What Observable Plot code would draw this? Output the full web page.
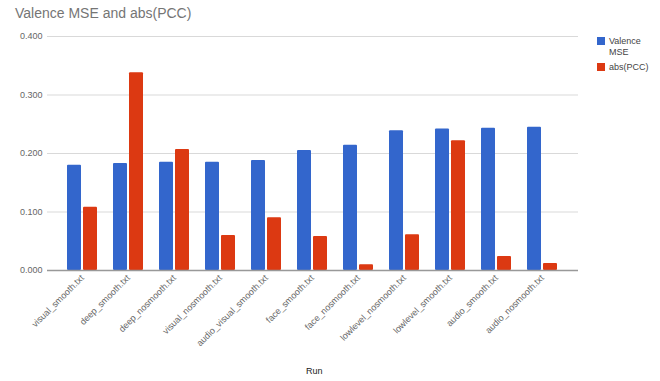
<!DOCTYPE html>
<html>
<head>
<meta charset="utf-8">
<script src="https://cdn.jsdelivr.net/npm/d3@7"></script>
<script src="https://cdn.jsdelivr.net/npm/@observablehq/plot@0.6"></script>
<style>
  html, body { margin: 0; padding: 0; background: #fff; }
  #wrap { position: relative; width: 660px; height: 381px; font-family: "Liberation Sans", Arial, sans-serif; }
  #title { position: absolute; left: 15px; top: 5px; font-size: 14px; color: #757575; }
  #xlabel { position: absolute; left: 306px; top: 366px; font-size: 9px; color: #222; }
  .leg { position: absolute; left: 597px; font-size: 9px; color: #444; line-height: 11px; }
  .leg span.sw { position: absolute; left: 0; top: 1px; width: 8px; height: 8px; }
  .leg span.tx { position: absolute; left: 12px; top: 0; white-space: nowrap; }
</style>
</head>
<body>
<div id="wrap">
  <div id="chart"></div>
  <div id="title">Valence MSE and abs(PCC)</div>
  <div id="legend"></div>
  <div id="xlabel">Run</div>
</div>
<script>
const runs = ["visual_smooth.txt","deep_smooth.txt","deep_nosmooth.txt","visual_nosmooth.txt","audio_visual_smooth.txt","face_smooth.txt","face_nosmooth.txt","lowlevel_nosmooth.txt","lowlevel_smooth.txt","audio_smooth.txt","audio_nosmooth.txt"];
const mse = [0.180,0.183,0.185,0.185,0.188,0.205,0.214,0.239,0.242,0.243,0.245];
const pcc = [0.108,0.338,0.207,0.060,0.090,0.058,0.010,0.061,0.222,0.024,0.012];
const seriesNames = ["Valence MSE","abs(PCC)"];
const seriesColors = ["#3366cc","#dc3912"];
const yTicks = [0,0.1,0.2,0.3,0.4];

const mseRows = runs.map((r,i) => ({run: r, value: mse[i]}));
const pccRows = runs.map((r,i) => ({run: r, value: pcc[i]}));

const chart = Plot.plot({
  width: 660, height: 381,
  marginTop: 36, marginBottom: 111, marginLeft: 47, marginRight: 82,
  style: {fontFamily: "'Liberation Sans', Arial, sans-serif", fontSize: "9px", color: "#666", background: "white"},
  x: {domain: runs, paddingInner: 0.338, paddingOuter: 0.342, label: null, tickSize: 0, tickRotate: -45, tickPadding: 6},
  y: {domain: [0,0.4], ticks: yTicks, tickFormat: ".3f", label: null, tickSize: 0, tickPadding: 5},
  marks: [
    Plot.ruleY(yTicks.slice(1), {stroke: "#d9d9d9"}),
    Plot.barY(mseRows, {x: "run", y: "value", fill: seriesColors[0], insetRight: 16, rx: 1}),
    Plot.barY(pccRows, {x: "run", y: "value", fill: seriesColors[1], insetLeft: 16, rx: 1}),
    Plot.ruleY([0], {stroke: "#999", strokeWidth: 1.5})
  ]
});
document.getElementById("chart").appendChild(chart);

const legend = document.getElementById("legend");
const legTops = [36, 62];
seriesNames.forEach((name, i) => {
  const d = document.createElement("div");
  d.className = "leg";
  d.style.top = legTops[i] + "px";
  const label = i === 0 ? "Valence<br>MSE" : name;
  d.innerHTML = `<span class="sw" style="background:${seriesColors[i]}"></span><span class="tx">${label}</span>`;
  legend.appendChild(d);
});
</script>
</body>
</html>
